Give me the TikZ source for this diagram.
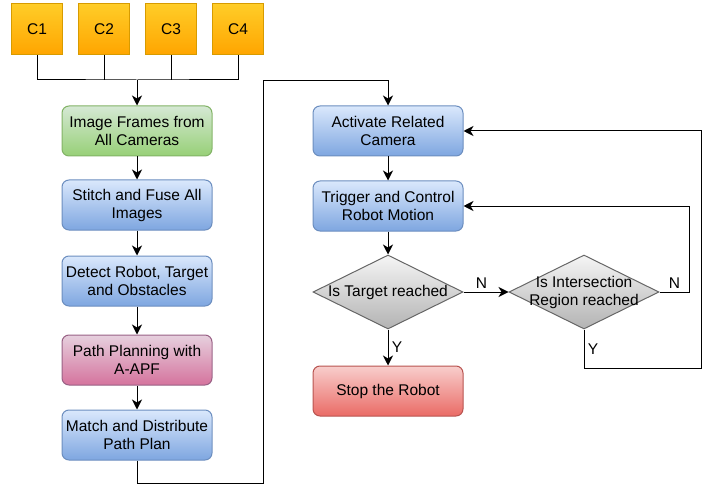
\documentclass[tikz,border=0pt]{standalone}
\usepackage{fontspec}
\setmainfont{Liberation Sans}
\usetikzlibrary{positioning,shapes.geometric,arrows.meta}

\definecolor{camtop}{HTML}{FFCD28}
\definecolor{cambot}{HTML}{FFA500}
\definecolor{camline}{HTML}{D79B00}
\definecolor{greentop}{HTML}{D5E8D4}
\definecolor{greenbot}{HTML}{97D077}
\definecolor{greenline}{HTML}{82B366}
\definecolor{bluetop}{HTML}{DAE8FC}
\definecolor{bluebot}{HTML}{7EA6E0}
\definecolor{blueline}{HTML}{6C8EBF}
\definecolor{pinktop}{HTML}{E6D0DE}
\definecolor{pinkbot}{HTML}{D5739D}
\definecolor{pinkline}{HTML}{996185}
\definecolor{redtop}{HTML}{F8CECC}
\definecolor{redbot}{HTML}{EA6B66}
\definecolor{redline}{HTML}{B85450}
\definecolor{greytop}{HTML}{F5F5F5}
\definecolor{greybot}{HTML}{B3B3B3}
\definecolor{greyline}{HTML}{666666}

\tikzset{
  cam/.style={draw=camline, top color=camtop, bottom color=cambot,
    minimum width=51pt, minimum height=51pt, inner sep=0pt},
  stepbox/.style={rounded corners=7pt, minimum width=150pt, minimum height=50pt,
    align=center, inner sep=1pt},
  greenbox/.style={stepbox, draw=greenline, top color=greentop, bottom color=greenbot},
  bluebox/.style={stepbox, draw=blueline, top color=bluetop, bottom color=bluebot},
  pinkbox/.style={stepbox, draw=pinkline, top color=pinktop, bottom color=pinkbot},
  redbox/.style={stepbox, draw=redline, top color=redtop, bottom color=redbot},
  decide/.style={diamond, draw=greyline, top color=greytop, bottom color=greybot,
    minimum width=150pt, minimum height=74pt, inner sep=0pt},
  flow/.style={-{Stealth[length=10pt,width=10pt,inset=3pt]}},
}

\begin{document}
\begin{tikzpicture}[x=1pt, y=-1pt, line width=1pt,
    font=\fontsize{15.5}{18}\selectfont]
    \useasboundingbox (0,0) rectangle (708,486);

    % cameras
    \node[cam] (c1) at (37,29) {C1};
    \node[cam] (c2) at (104,29) {C2};
    \node[cam] (c3) at (171,29) {C3};
    \node[cam] (c4) at (238,29) {C4};

    % left column
    \node[greenbox] (frames) at (137,131) {Image Frames from\\All Cameras};
    \node[bluebox, below=23pt of frames] (stitch) {Stitch and Fuse All\\Images};
    \node[bluebox, below=25pt of stitch] (detect) {Detect Robot, Target\\and Obstacles};
    \node[pinkbox, below=28pt of detect] (plan) {Path Planning with\\A-APF};
    \node[bluebox, below=24pt of plan] (match) {Match and Distribute\\Path Plan};

    % right column
    \node[bluebox] (activate) at (388,131) {Activate Related\\Camera};
    \node[bluebox, below=24pt of activate] (trigger) {Trigger and Control\\Robot Motion};
    \node[decide, below=23pt of trigger, label=center:{Is Target reached}] (target) {};
    \node[redbox, below=36pt of target] (stop) {Stop the Robot};
    \node[decide, right=45pt of target,
      label={[align=center]center:{Is Intersection\\Region reached}}] (inter) {};

    % camera bus
    \coordinate (bus) at (137,80);
    \draw (c1.south) |- (bus) -| (c4.south);
    \draw (c2.south) -- (c2.south |- bus);
    \draw (c3.south) -- (c3.south |- bus);
    \draw[flow] (bus) -- (frames);

    \draw[flow] (frames) -- (stitch);
    \draw[flow] (stitch) -- (detect);
    \draw[flow] (detect) -- (plan);
    \draw[flow] (plan) -- (match);

    % over to the right column
    \coordinate (low) at (263,483);
    \coordinate (high) at (263,81);
    \draw[flow] (match) |- (low) -- (high) -| (activate);

    \draw[flow] (activate) -- (trigger);
    \draw[flow] (trigger) -- (target);
    \draw[flow] (target) -- node[above, pos=0.4] {N} (inter);
    \draw[flow] (target) -- node[right] {Y} (stop);
    \draw[flow] (inter.east) -- node[above] {N} ++(30,0) |- (trigger);
    \draw[flow] (inter.south) -- node[right] {Y} ++(0,39) -- ++(117,0) |- (activate);
\end{tikzpicture}
\end{document}
